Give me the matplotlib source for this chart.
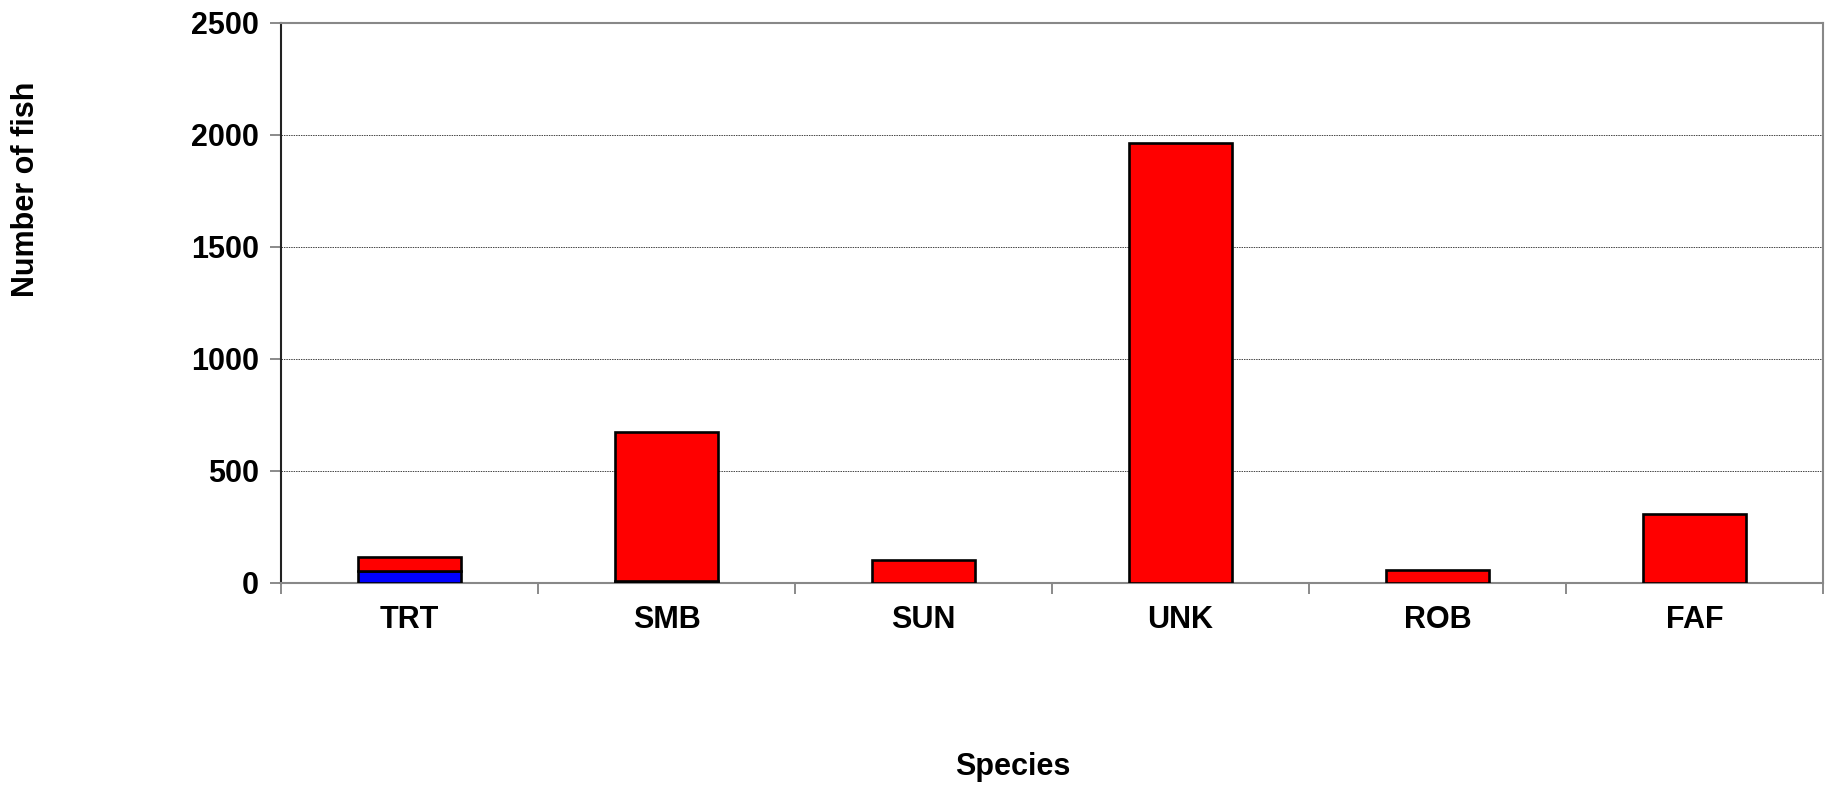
import matplotlib
matplotlib.use("Agg")
import matplotlib.pyplot as plt
import numpy as np

species = ["TRT", "SMB", "SUN", "UNK", "ROB", "FAF"]
blue_counts = [52, 8, 0, 0, 0, 0]
red_counts = [64, 664, 104, 1965, 57, 308]
yticks = [0, 500, 1000, 1500, 2000, 2500]

plt.rcParams['font.family'] = ['Liberation Sans', 'DejaVu Sans']
plt.rcParams['font.weight'] = 'bold'

fig = plt.figure(figsize=(18.3, 7.87), dpi=100)
ax = fig.add_axes([281/1830, 1-583/787, (1823-281)/1830, (583-23)/787])

x = np.arange(len(species))
w = 0.40
ax.bar(x, blue_counts, width=w, color='#0000FF', edgecolor='black', linewidth=1.9, zorder=3)
ax.bar(x, red_counts, width=w, bottom=blue_counts, color='#FF0000', edgecolor='black', linewidth=1.9, zorder=3)

fs = 22
ax.set_xlim(-0.5, len(species)-0.5)
ax.set_ylim(0, 2500)
ax.set_yticks(yticks)
ax.set_yticklabels([str(v) for v in yticks], fontsize=fs, fontweight='bold')
ax.yaxis.grid(True, linestyle=(0, (1.5, 1)), color='#444444', linewidth=0.7, zorder=0)

ax.set_xticks(np.arange(-0.5, len(species), 1.0))
ax.set_xticklabels([])
ax.set_xticks(x, minor=True)
ax.set_xticklabels(species, minor=True, fontsize=fs, fontweight='bold')
ax.tick_params(axis='x', which='minor', length=0, pad=16)
ax.tick_params(axis='x', which='major', length=8, color='#777777', width=1.2, direction='out')
ax.tick_params(axis='y', which='major', length=8, color='#777777', width=1.2, direction='out', pad=8)

for s in ['top', 'right', 'bottom']:
    ax.spines[s].set_color('#888888')
    ax.spines[s].set_linewidth(1.5)
ax.spines['left'].set_color('#222222')
ax.spines['left'].set_linewidth(1.5)

fig.text(26/1830, 1-189/787, "Number of fish", rotation=90, ha='center', va='center', fontsize=fs, fontweight='bold')
fig.text(1013/1830, 1-767/787, "Species", ha='center', va='center', fontsize=fs, fontweight='bold')

fig.savefig("out.png", dpi=100)
